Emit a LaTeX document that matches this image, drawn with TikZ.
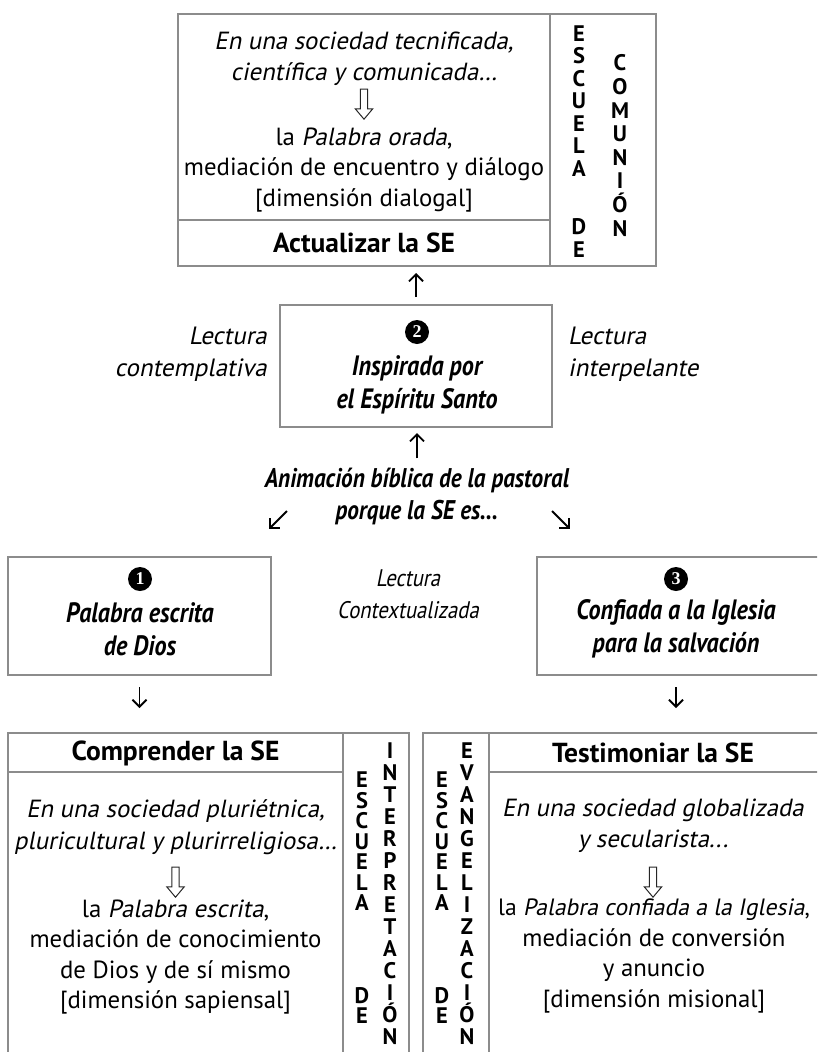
\documentclass[tikz,border=0pt]{standalone}
\usepackage{fontspec}
\setmainfont{PT Sans}
\newfontfamily\narrowfont[FakeStretch=0.86]{PT Sans}
\newfontfamily\slantfont[FakeSlant=0.2]{PT Sans}
\newfontfamily\slimfont[FakeSlant=0.2, FakeStretch=0.86]{PT Sans}
\newfontfamily\numfont{Liberation Serif}
\newcommand{\oblq}[1]{{\slantfont #1}}
\usetikzlibrary{positioning,calc,shapes.arrows,arrows.meta}

\begin{document}
\begin{tikzpicture}[x=1pt, y=-1pt,
    rule/.style={draw=black!45, line width=1.3pt},
    frame/.style={rectangle, rule, outer sep=0pt, inner sep=0pt},
    body/.style={align=center, inner sep=0pt, font=\fontsize{24.8}{30.5}\selectfont},
    socie/.style={align=center, inner sep=0pt, font=\slantfont\fontsize{24.8}{31.5}\selectfont},
    head/.style={inner sep=0pt, font=\fontsize{27.5}{30}\selectfont\bfseries},
    col/.style={align=center, inner sep=0pt, font=\fontsize{22.5}{#1}\selectfont\bfseries},
    col/.default=22.5,
    kind/.style={align=center, inner sep=0pt, font=\narrowfont\fontsize{28}{33}\selectfont\bfseries\itshape},
    reading/.style={inner sep=0pt, font=\slantfont\fontsize{25}{32}\selectfont},
    num/.style={circle, fill=black, text=white, inner sep=0pt, minimum size=24pt, font=\numfont\fontsize{18}{18}\selectfont\bfseries},
    hollow/.style={single arrow, draw=black!85, line width=1pt, shape border rotate=270, minimum height=30pt, single arrow head extend=5pt, single arrow tip angle=80, inner sep=3.2pt},
    arrow/.style={-{Straight Barb[length=7pt, width=14pt, line width=1.8pt]}, line width=1.8pt}
]
\useasboundingbox (0,0) rectangle (817,1052);
\clip (0,0) rectangle (817,1052);

% Escuela de comunion (top)
\node[frame, minimum width=372pt, minimum height=252pt] (actual) at (364,140) {};
\node[frame, minimum width=106pt, minimum height=252pt, right=0pt of actual] (comunion) {};
\draw[rule] ($(actual.south west)+(0,-46)$) -- ($(actual.south east)+(0,-46)$);
\node[socie] (soc-a) at (364,59) {En una sociedad tecnificada,\\científica y comunicada…};
\node[hollow] (ha) at (364,102) {};
\node[body] (pal-a) at (364,170) {la \oblq{Palabra orada},\\mediación de encuentro y diálogo\\{[}dimensión dialogal{]}};
\node[head] (act-h) at (364,243) {Actualizar la SE};
\node[col] (esc-a) at (579,141.5) {E\\S\\C\\U\\E\\L\\A\\[36pt]D\\E};
\node[col=23.6] (com-a) at (620,145.5) {C\\O\\M\\U\\N\\I\\Ó\\N};

% 2 - center
\node[frame, minimum width=272pt, minimum height=122pt] (inspirada) at (416,366) {};
\node[num] (n2) at (417,332) {2};
\node[kind] (insp-t) at (417,385) {Inspirada por\\el Espíritu Santo};
\draw[arrow, shorten <=8pt, shorten >=7pt] (inspirada.north) -- (inspirada.north |- actual.south);
\node[reading, anchor=east, align=right] (lect-c) at (267,354) {Lectura\\contemplativa};
\node[reading, anchor=west, align=left] (lect-i) at (568,354) {Lectura\\interpelante};

% Animacion biblica
\node[kind, font=\narrowfont\fontsize{27}{32}\selectfont\bfseries\itshape] (anim) at (417,496) {Animación bíblica de la pastoral\\porque la SE es…};
\draw[arrow, shorten <=9pt, shorten >=6pt] (anim.north) -- (anim.north |- inspirada.south);
\coordinate (dl-a) at (287,511);
\coordinate (dl-b) at (269,529);
\coordinate (dr-a) at (552,511);
\coordinate (dr-b) at (570,529);
\draw[arrow] (dl-a) -- (dl-b);
\draw[arrow] (dr-a) -- (dr-b);

% 1 and 3
\node[frame, minimum width=263pt, minimum height=118pt] (escrita) at (139.5,616) {};
\node[num] (n1) at (140,579) {1};
\node[kind] (escr-t) at (140,629) {Palabra escrita\\de Dios};
\node[align=center, inner sep=0pt, font=\slimfont\fontsize{24}{32}\selectfont] (lect-x) at (408,594) {Lectura\\Contextualizada};
\node[frame, minimum width=300pt, minimum height=118pt] (confiada) at (687,616) {};
\node[num] (n3) at (676,579) {3};
\node[kind] (conf-t) at (676,629) {Confiada a la Iglesia\\para la salvación};

% Escuela de interpretacion (bottom left)
\node[frame, minimum width=335pt, minimum height=340pt] (comp) at (175.5,903) {};
\node[frame, minimum width=66pt, minimum height=340pt, right=0pt of comp] (interp) {};
\draw[rule] ($(comp.north west)+(0,39)$) -- ($(comp.north east)+(0,39)$);
\node[head] (comp-h) at (175.5,753) {Comprender la SE};
\node[socie] (soc-b) at (175.5,827) {En una sociedad pluriétnica,\\pluricultural y plurirreligiosa…};
\node[hollow] (hb) at (175.5,880) {};
\node[body] (pal-b) at (175.5,957) {la \oblq{Palabra escrita},\\mediación de conocimiento\\de Dios y de sí mismo\\{[}dimensión sapiensal{]}};
\node[col=20.5] (esc-b) at (362,898) {E\\S\\C\\U\\E\\L\\A\\[72pt]D\\E};
\node[col=22] (int-b) at (390,894) {I\\N\\T\\E\\R\\P\\R\\E\\T\\A\\C\\I\\Ó\\N};

% Escuela de evangelizacion (bottom right)
\node[frame, minimum width=66pt, minimum height=340pt] (evang) at (456,903) {};
\node[frame, minimum width=341pt, minimum height=340pt, right=0pt of evang] (testi) {};
\draw[rule] ($(testi.north west)+(0,39)$) -- ($(testi.north east)+(0,39)$);
\node[head] (test-h) at (653,753) {Testimoniar la SE};
\node[socie] (soc-c) at (653,826) {En una sociedad globalizada\\y secularista...};
\node[hollow] (hc) at (653,880) {};
\node[body] (pal-c) at (654,956) {{\fontsize{23.6}{30.5}\selectfont la \oblq{Palabra confiada a la Iglesia},}\\mediación de conversión\\y anuncio\\{[}dimensión misional{]}};
\node[col=20.5] (esc-c) at (442,898) {E\\S\\C\\U\\E\\L\\A\\[72pt]D\\E};
\node[col=22] (eva-c) at (467,894) {E\\V\\A\\N\\G\\E\\L\\I\\Z\\A\\C\\I\\Ó\\N};

% down arrows
\draw[arrow, shorten <=12pt, shorten >=25pt] (escrita.south) -- (escrita.south |- comp.north);
\draw[arrow, shorten <=12pt, shorten >=25pt] (n3 |- confiada.south) -- (n3 |- testi.north);

\end{tikzpicture}
\end{document}
